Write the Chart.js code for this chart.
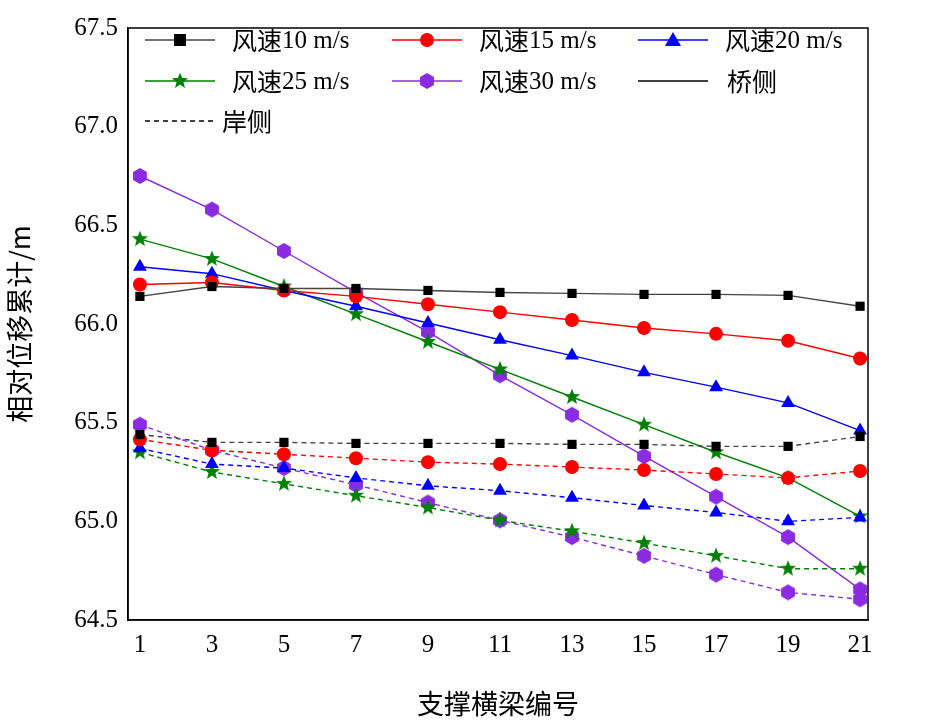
<!DOCTYPE html>
<html><head><meta charset="utf-8">
<script src="https://cdn.jsdelivr.net/npm/chart.js@4/dist/chart.umd.min.js"></script>
<style>html,body{margin:0;background:#fff}#w{width:940px;height:724px}</style>
</head><body><div id="w"><canvas id="c"></canvas></div>
<script>
const xs=[1,3,5,7,9,11,13,15,17,19,21];
const bridge10=[66.14,66.19,66.18,66.18,66.17,66.16,66.155,66.15,66.15,66.145,66.09];
const bridge15=[66.20,66.21,66.17,66.14,66.10,66.06,66.02,65.98,65.95,65.915,65.825];
const bridge20=[66.29,66.255,66.17,66.09,66.005,65.92,65.84,65.755,65.68,65.60,65.46];
const bridge25=[66.43,66.33,66.19,66.05,65.91,65.77,65.63,65.49,65.35,65.22,65.025];
const bridge30=[66.75,66.58,66.37,66.16,65.96,65.74,65.54,65.33,65.125,64.92,64.655];
const shore10=[65.44,65.40,65.40,65.395,65.395,65.395,65.39,65.39,65.38,65.38,65.43];
const shore15=[65.415,65.36,65.34,65.32,65.30,65.29,65.275,65.26,65.24,65.22,65.255];
const shore20=[65.37,65.29,65.27,65.22,65.18,65.155,65.12,65.08,65.045,65.00,65.02];
const shore25=[65.35,65.25,65.19,65.13,65.07,65.005,64.95,64.89,64.825,64.76,64.76];
const shore30=[65.49,65.36,65.27,65.185,65.095,65.005,64.92,64.825,64.73,64.64,64.605];
const yTicks=[64.5,65.0,65.5,66.0,66.5,67.0,67.5];
const labels=['风速10 m/s','风速15 m/s','风速20 m/s','风速25 m/s','风速30 m/s'];
const colors=['#000000','#ff0000','#0000ff','#008000','#8a2be2'];
const lineColors=['#444444','#ff0000','#0000ff','#008000','#8a2be2'];

function mk(draw){const c=document.createElement('canvas');c.width=18;c.height=18;const g=c.getContext('2d');draw(g);return c;}
function poly(g,n,r,rot,col,inner){g.fillStyle=col;g.beginPath();const k=inner?2*n:n;for(let i=0;i<k;i++){const a=rot+i*Math.PI*2/k;const rr=inner&&i%2?inner:r;const px=9+rr*Math.cos(a),py=9+rr*Math.sin(a);i?g.lineTo(px,py):g.moveTo(px,py);}g.closePath();g.fill();}
const star=mk(g=>poly(g,5,8.5,-Math.PI/2,'#008000',3.6));
const hex=mk(g=>poly(g,6,8,Math.PI/6,'#8a2be2'));
const styles=['rect','circle','triangle',star,hex];
const radii=[6.5,7,8,8,8];

const datasets=[];
const series=[[bridge10,shore10],[bridge15,shore15],[bridge20,shore20],[bridge25,shore25],[bridge30,shore30]];
series.forEach((s,i)=>{
 [0,1].forEach(j=>{
  datasets.push({label:labels[i]+(j?' 岸侧':''),data:xs.map((x,k)=>({x,y:s[j][k]})),borderColor:lineColors[i],backgroundColor:colors[i],pointBackgroundColor:colors[i],pointBorderColor:colors[i],borderWidth:1.4,borderDash:j?[5,4]:[],pointStyle:styles[i],pointRadius:radii[i],pointBorderWidth:0,tension:0});
 });
});

const legendPlugin={id:'lg',afterDraw(ch){const g=ch.ctx;g.save();
 const items=[[0,145,40],[1,392,40],[2,638,40],[3,145,81],[4,392,81]];
 g.font='25px "Noto Sans CJK SC"';g.textBaseline='middle';
 items.forEach(([i,x,y])=>{g.strokeStyle=lineColors[i];g.lineWidth=1.4;g.setLineDash([]);g.beginPath();g.moveTo(x,y);g.lineTo(x+70,y);g.stroke();
  g.fillStyle=colors[i];const cx=x+35;
  if(i==0)g.fillRect(cx-6,y-6,12,12);
  else if(i==1){g.beginPath();g.arc(cx,y,7,0,7);g.fill();}
  else if(i==2){g.beginPath();g.moveTo(cx,y-8);g.lineTo(cx+8,y+6);g.lineTo(cx-8,y+6);g.closePath();g.fill();}
  else g.drawImage(i==3?star:hex,cx-9,y-9);
  g.fillStyle='#000';g.fillText('风速',x+87,y);g.font='25px "Liberation Serif"';g.fillText(labels[i].slice(2),x+137,y+1);g.font='25px "Noto Sans CJK SC"';});
 g.strokeStyle='#000';g.beginPath();g.moveTo(638,81);g.lineTo(708,81);g.stroke();g.fillStyle='#000';g.fillText('桥侧',727,81);
 g.setLineDash([5,4]);g.beginPath();g.moveTo(145,121);g.lineTo(215,121);g.stroke();g.setLineDash([]);g.fillText('岸侧',222,121);
 const a=ch.chartArea;g.lineWidth=1.5;g.strokeRect(a.left,a.top,a.right-a.left,a.bottom-a.top);
 g.restore();}};

new Chart(document.getElementById('c'),{type:'line',data:{datasets},plugins:[legendPlugin],
options:{responsive:true,maintainAspectRatio:false,animation:false,layout:{padding:{top:28,right:72}},
plugins:{legend:{display:false},tooltip:{enabled:false}},
scales:{
 x:{type:'linear',min:0.67,max:21.22,afterBuildTicks(s){s.ticks=xs.map(v=>({value:v}));},afterFit(s){s.height=104;},
  grid:{display:false,drawTicks:true,tickLength:6,tickColor:'#000'},border:{color:'#000',width:1.5},
  ticks:{color:'#000',font:{family:'Liberation Serif',size:25},padding:4},
  title:{display:true,text:'支撑横梁编号',color:'#000',font:{family:'Noto Sans CJK SC',size:27},padding:{top:12}}},
 y:{min:64.5,max:67.5,afterBuildTicks(s){s.ticks=yTicks.map(v=>({value:v}));},afterFit(s){s.width=128;},
  grid:{display:false,tickLength:6,tickColor:'#000'},border:{color:'#000',width:1.5},
  ticks:{color:'#000',font:{family:'Liberation Serif',size:25},callback:v=>v.toFixed(1),padding:4},
  title:{display:true,text:'相对位移累计/m',color:'#000',font:{family:'Noto Sans CJK SC',size:27},padding:{bottom:4}}}
}}});
</script></body></html>
